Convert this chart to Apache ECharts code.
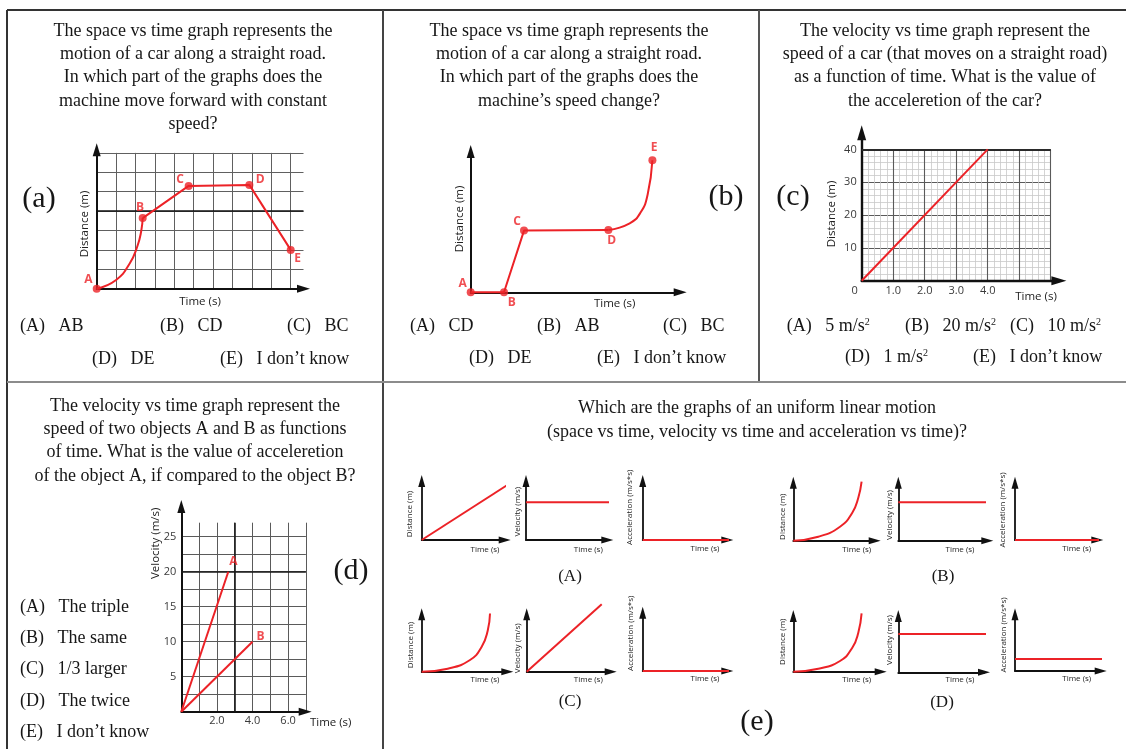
<!DOCTYPE html>
<html>
<head>
<meta charset="utf-8">
<script src="https://cdn.jsdelivr.net/npm/echarts@6/dist/echarts.min.js"></script>
<style>
  html, body { margin: 0; padding: 0; background: #fff; }
  #chart { width: 1126px; height: 749px; }
</style>
</head>
<body>
<div id="chart"></div>
<script>
// ---- data ----
// (a) distance vs time, grid units
const aCurve = [[0, 0], [1.0, 0.45], [1.7, 1.3], [2.1, 2.2], [2.3, 3.0], [2.37, 3.64]];
const aLine = [[2.37, 3.64], [4.74, 5.3], [7.87, 5.35], [10, 2.0]];
const aPoints = [[0, 0], [2.37, 3.64], [4.74, 5.3], [7.87, 5.35], [10, 2.0]];
const pointNames = ['A', 'B', 'C', 'D', 'E'];

// (b) distance vs time
const bLine = [[0, 0], [3.33, 0], [5.33, 6.17], [13.77, 6.23]];
const bCurve = [[13.77, 6.23], [15.9, 6.9], [17.0, 8.0], [17.7, 9.8], [18.17, 13.2]];
const bPoints = [[0, 0], [3.33, 0], [5.33, 6.17], [13.77, 6.23], [18.17, 13.2]];

// (c) distance (m) vs time (s)
const cLine = [[0, 0], [4, 40]];
const cTimeTicks = [1, 2, 3, 4];
const cDistTicks = [10, 20, 30, 40];

// (d) velocity (m/s) vs time (s)
const dLineA = [[0, 0], [2.64, 20]];
const dLineB = [[0, 0], [4, 10]];
const dNames = ['A', 'B'];
const dTimeTicks = [2, 4, 6];
const dVelTicks = [5, 10, 15, 20, 25];

// (e) the four sets of small graphs
const eADist = [[0, 0], [8.83, 5.67]];
const eAVel = [[0, 3.77], [8.73, 3.77]];
const eAAcc = [[0, 0], [8.9, 0]];
const eBDist = [[0, 0], [2.5, 0.4], [4.67, 1.4], [5.9, 2.8], [6.5, 4.3], [6.83, 5.9]];
const eBVel = [[0, 3.84], [8.77, 3.84]];
const eBAcc = [[0, 0], [8.5, 0]];
const eCDist = [[0, 0], [2.6, 0.3], [4.83, 1.17], [6.0, 2.5], [6.6, 4.1], [6.83, 5.83]];
const eCVel = [[0, 0], [7.5, 6.74]];
const eCAcc = [[0, 0], [8.9, 0]];
const eDDist = [[0, 0], [2.5, 0.3], [4.67, 1.07], [5.9, 2.4], [6.5, 3.9], [6.83, 5.83]];
const eDVel = [[0, 3.83], [8.77, 3.83]];
const eDAcc = [[0, 1.2], [8.77, 1.2]];

// ---- styling ----
const RED = '#ec2227';
const INK = '#161616';
const SANS = '"Open Sans", "DejaVu Sans", sans-serif';
const SERIF = '"Liberation Serif", "DejaVu Serif", serif';

const grid = [], xAxis = [], yAxis = [], series = [], elements = [];

function rect(o, w, h) {
  return {left: o.ox, top: o.oy - h * o.sy, width: w * o.sx, height: h * o.sy,
    containLabel: false, outerBoundsMode: 'none'};
}

// axis pair with arrow heads, no grid lines
function axes(o) {
  const gi = grid.length;
  grid.push(rect(o, o.xMax, o.yMax));
  const line = {show: true, onZero: false, symbol: ['none', 'triangle'], symbolSize: o.arrow || [7, 12],
    lineStyle: {color: '#111', width: o.lw || 1.8}};
  const base = {type: 'value', gridIndex: gi, min: 0, axisLine: line, axisTick: {show: false},
    axisLabel: {show: false}, splitLine: {show: false}, minorSplitLine: {show: false}};
  xAxis.push(Object.assign({}, base, {max: o.xMax}));
  yAxis.push(Object.assign({}, base, {max: o.yMax}));
  return gi;
}

// grid lines (and tick labels) sharing the same origin and scale
function gridLines(o) {
  const gi = grid.length;
  grid.push(rect(o, o.gx, o.gy));
  const mk = (max, int, showMax, label) => ({
    type: 'value', gridIndex: gi, min: 0, max: max, interval: int,
    axisLine: {show: false}, axisTick: {show: false},
    axisLabel: label || {show: false},
    splitLine: {show: true, showMinLine: false, showMaxLine: showMax,
      lineStyle: {color: o.color, width: o.width || 1}},
    minorTick: {show: false, splitNumber: o.minor || 5},
    minorSplitLine: {show: !!o.minor, lineStyle: {color: o.minorColor || '#ccc', width: 0.8}}
  });
  xAxis.push(mk(o.gx, o.xInt, o.xMaxLine, o.xLabel));
  yAxis.push(mk(o.gy, o.yInt, o.yMaxLine, o.yLabel));
  return gi;
}

function darkLines(gi, marks, color, width) {
  series.push({type: 'line', xAxisIndex: gi, yAxisIndex: gi, data: [], silent: true,
    markLine: {silent: true, symbol: 'none', label: {show: false}, animation: false,
      lineStyle: {color: color, width: width, type: 'solid'}, data: marks}});
}

function redLine(gi, data, smooth) {
  series.push({type: 'line', xAxisIndex: gi, yAxisIndex: gi, data: data, symbol: 'none',
    smooth: smooth ? 0.5 : false,
    clip: false, silent: true, z: 5, lineStyle: {color: RED, width: 2}});
}

function dots(gi, pts, names, offsets, size) {
  series.push({type: 'scatter', xAxisIndex: gi, yAxisIndex: gi, clip: false, silent: true, z: 6,
    symbolSize: size, itemStyle: {color: size > 2 ? RED : 'rgba(0,0,0,0)'},
    label: {show: true, position: 'inside', formatter: '{b}', color: RED, fontFamily: SANS,
      fontWeight: 'bold', fontSize: 12},
    data: pts.map((p, i) => ({name: names[i], value: p, label: {offset: offsets[i]}}))});
}

function text(str, x, y, o) {
  o = o || {};
  elements.push({type: 'text', x: x, y: y, rotation: o.rot || 0, silent: true, z: 50,
    style: {text: str, fill: o.fill || INK, fontSize: o.size || 18, fontFamily: o.family || SERIF,
      align: o.align || 'center', verticalAlign: 'middle',
      textAlign: o.align || 'center', textVerticalAlign: 'middle', rich: o.rich}});
}

function rule(x1, y1, x2, y2, color, w) {
  elements.push({type: 'line', silent: true, z: 40, shape: {x1: x1, y1: y1, x2: x2, y2: y2},
    style: {stroke: color, lineWidth: w}});
}

// ---- panel (a) ----
const pa = {ox: 96.7, oy: 288.7, sx: 19.4, sy: 19.4};
const aGrid = gridLines(Object.assign({}, pa, {gx: 10.66, gy: 7, xInt: 1, yInt: 1, xMaxLine: false, yMaxLine: true,
  color: '#606060', width: 1}));
darkLines(aGrid, [{yAxis: 4}], '#111', 1.6);
const aAx = axes(Object.assign({}, pa, {xMax: 10.66, yMax: 7.16, arrow: [8, 13], lw: 2}));
redLine(aAx, aCurve, true);
redLine(aAx, aLine, false);
dots(aAx, aPoints, pointNames, [[-8.4, -8.7], [-2.7, -10.4], [-8.7, -6], [10.7, -5.4], [7, 8.3]], 8);

// ---- panel (b) ----
const pb = {ox: 470.7, oy: 292.3, sx: 10, sy: 10};
const bAx = axes(Object.assign({}, pb, {xMax: 20.95, yMax: 14.08, arrow: [8, 13], lw: 2}));
redLine(bAx, bLine, false);
redLine(bAx, bCurve, true);
dots(bAx, bPoints, pointNames, [[-8, -9], [7.7, 10.7], [-7, -9.3], [3.3, 11], [1.6, -13]], 8);

// ---- panel (c) ----
const pc = {ox: 861.7, oy: 280.7, sx: 31.5, sy: 3.283};
const tickStyle = {color: '#3a3a3a', fontFamily: SANS, fontSize: 11};
const cGrid = gridLines(Object.assign({}, pc, {gx: 6, gy: 40, xInt: 1, yInt: 10, xMaxLine: true, yMaxLine: true,
  color: '#5a5a5a', width: 1.1, minor: 5, minorColor: '#c9c9c9',
  xLabel: Object.assign({show: true, margin: 5, showMinLabel: true,
    formatter: v => v === 0 ? '{z|0}' : (cTimeTicks.indexOf(v) >= 0 ? v.toFixed(1) : ''),
    rich: {z: Object.assign({padding: [0, 14, 0, 0]}, tickStyle)}}, tickStyle),
  yLabel: Object.assign({show: true, margin: 5,
    formatter: v => cDistTicks.indexOf(v) >= 0 ? String(v) : ''}, tickStyle)}));
darkLines(cGrid, [{yAxis: 40}], '#2a2a2a', 2);
const cAx = axes(Object.assign({}, pc, {xMax: 6.26, yMax: 45.1, arrow: [9, 15], lw: 2.4}));
redLine(cAx, cLine, false);

// ---- panel (d) ----
const pd = {ox: 181.3, oy: 711.7, sx: 17.8, sy: 7};
const dGrid = gridLines(Object.assign({}, pd, {gx: 7, gy: 27, xInt: 1, yInt: 2.5, xMaxLine: true, yMaxLine: false,
  color: '#5a5a5a', width: 1,
  xLabel: Object.assign({show: true, margin: 4,
    formatter: v => dTimeTicks.indexOf(v) >= 0 ? v.toFixed(1) : ''}, tickStyle),
  yLabel: Object.assign({show: true, margin: 5,
    formatter: v => dVelTicks.indexOf(v) >= 0 ? String(v) : ''}, tickStyle)}));
darkLines(dGrid, [{xAxis: 3}, {yAxis: 20}], '#1a1a1a', 1.6);
const dAx = axes(Object.assign({}, pd, {xMax: 6.96, yMax: 29.3, arrow: [8, 13], lw: 2}));
redLine(dAx, dLineA, false);
redLine(dAx, dLineB, false);
dots(dAx, [dLineA[1], dLineB[1]], dNames, [[5, -10], [8, -5]], 2);

// ---- panel (e): small graphs ----
const small = [
  {ox: 421.7, oy: 540, xMax: 8.3, yMax: 5.9, data: eADist, curve: false},
  {ox: 526, oy: 540, xMax: 8.13, yMax: 5.9, data: eAVel},
  {ox: 642.7, oy: 540, xMax: 8.46, yMax: 5.9, data: eAAcc},
  {ox: 793.3, oy: 540.7, xMax: 8.14, yMax: 5.8, data: eBDist, curve: true},
  {ox: 898.3, oy: 540.7, xMax: 8.9, yMax: 5.8, data: eBVel},
  {ox: 1015, oy: 540, xMax: 8.23, yMax: 5.73, data: eBAcc},
  {ox: 421.7, oy: 671.7, xMax: 8.56, yMax: 5.74, data: eCDist, curve: true},
  {ox: 526.7, oy: 671.7, xMax: 8.4, yMax: 5.74, data: eCVel},
  {ox: 642.7, oy: 671, xMax: 8.46, yMax: 5.83, data: eCAcc},
  {ox: 793.3, oy: 671.7, xMax: 8.74, yMax: 5.57, data: eDDist, curve: true},
  {ox: 898.3, oy: 672.3, xMax: 8.57, yMax: 5.63, data: eDVel},
  {ox: 1015, oy: 671, xMax: 8.57, yMax: 5.67, data: eDAcc}
];
small.forEach(s => {
  const gi = axes(Object.assign({sx: 10, sy: 10, arrow: [7, 12], lw: 1.8}, s));
  redLine(gi, s.data, s.curve);
});

// ---- texts ----
const titleA = ['The space vs time graph represents the', 'motion of a car along a straight road.',
  'In which part of the graphs does the', 'machine move forward with constant', 'speed?'];
const titleB = ['The space vs time graph represents the', 'motion of a car along a straight road.',
  'In which part of the graphs does the', 'machine\u2019s speed change?'];
const titleC = ['The velocity vs time graph represent the', 'speed of a car (that moves on a straight road)',
  'as a function of time. What is the value of', 'the acceleretion of the car?'];
const titleD = ['The velocity vs time graph represent the', 'speed of two objects A and B as functions',
  'of time. What is the value of acceleretion', 'of the object A, if compared to the object B?'];
const titleE = ['Which are the graphs of an uniform linear motion',
  '(space vs time, velocity vs time and acceleration vs time)?'];

titleA.forEach((t, i) => text(t, 193, 31 + i * 23.3));
titleB.forEach((t, i) => text(t, 569, 31 + i * 23.3));
titleC.forEach((t, i) => text(t, 945, 31 + i * 23.3));
titleD.forEach((t, i) => text(t, 195, 406 + i * 23.3));
titleE.forEach((t, i) => text(t, 757, 408 + i * 24));

const L = {align: 'left'};
text('(A)   AB', 20, 326, L); text('(B)   CD', 160, 326, L); text('(C)   BC', 287, 326, L);
text('(D)   DE', 92, 359, L); text('(E)   I don\u2019t know', 220, 359, L);
text('(A)   CD', 410, 326, L); text('(B)   AB', 537, 326, L); text('(C)   BC', 663, 326, L);
text('(D)   DE', 469, 358, L); text('(E)   I don\u2019t know', 597, 358, L);
const supRich = {rich: {sup: {fontSize: 10, fontFamily: SERIF, fill: INK, color: INK, verticalAlign: 'top'}}};
text('(A)   5 m/s{sup|2}', 786.7, 326, Object.assign({align: 'left'}, supRich));
text('(B)   20 m/s{sup|2}', 905, 326, Object.assign({align: 'left'}, supRich));
text('(C)   10 m/s{sup|2}', 1010, 326, Object.assign({align: 'left'}, supRich));
text('(D)   1 m/s{sup|2}', 845, 357, Object.assign({align: 'left'}, supRich));
text('(E)   I don\u2019t know', 973, 357, L);
['(A)   The triple', '(B)   The same', '(C)   1/3 larger', '(D)   The twice', '(E)   I don\u2019t know']
  .forEach((t, i) => text(t, 20, 607 + i * 31.3, L));

// panel letters
const big = {size: 30};
text('(a)', 39, 199, big); text('(b)', 726, 197, big); text('(c)', 793, 197, big);
text('(d)', 351, 571, big); text('(e)', 757, 722, big);
const cap = {size: 17};
text('(A)', 570, 577, cap); text('(B)', 943, 577, cap); text('(C)', 570, 702, cap); text('(D)', 942, 703, cap);

// axis titles
const ax = {size: 11.5, family: SANS, fill: '#222'};
const axR = Object.assign({rot: Math.PI / 2}, ax);
text('Distance (m)', 85, 224, axR); text('Time (s)', 200, 301.5, ax);
text('Distance (m)', 459.3, 219, axR); text('Time (s)', 614.7, 304, ax);
text('Distance (m)', 831.7, 214, axR); text('Time (s)', 1036, 296.7, ax);
text('Velocity (m/s)', 156, 543.3, axR); text('Time (s)', 330.7, 722.7, ax);

const sm = {size: 8, family: SANS, fill: '#222'};
const smR = Object.assign({rot: Math.PI / 2}, sm);
const yNames = ['Distance (m)', 'Velocity (m/s)', 'Acceleration (m/s*s)'];
const smallNamePos = [
  [410, 514, 485, 549.3], [517.3, 511.7, 588.3, 549.3], [630, 507.3, 705, 548.3],
  [782.7, 516.7, 856.7, 549.3], [889.3, 515, 960, 549.3], [1002.7, 510, 1076.7, 548.3],
  [411, 645, 485, 680], [517.3, 648.3, 588.3, 680], [630.7, 633.3, 705, 679],
  [782.7, 641.7, 856.7, 680], [890, 640, 960, 680], [1003.3, 635, 1076.7, 679]
];
smallNamePos.forEach((p, i) => {
  text(yNames[i % 3], p[0], p[1], smR);
  text('Time (s)', p[2], p[3], sm);
});

// frame
rule(7, 10, 1126, 10, '#333', 2);
rule(7, 10, 7, 749, '#333', 2);
rule(383, 10, 383, 749, '#444', 2);
rule(759, 10, 759, 382, '#555', 2);
rule(7, 382, 1126, 382, '#8c8c8c', 2);

const chart = echarts.init(document.getElementById('chart'));
chart.setOption({
  backgroundColor: '#fff',
  animation: false,
  grid: grid,
  xAxis: xAxis,
  yAxis: yAxis,
  series: series,
  graphic: {elements: elements}
});
</script>
</body>
</html>
